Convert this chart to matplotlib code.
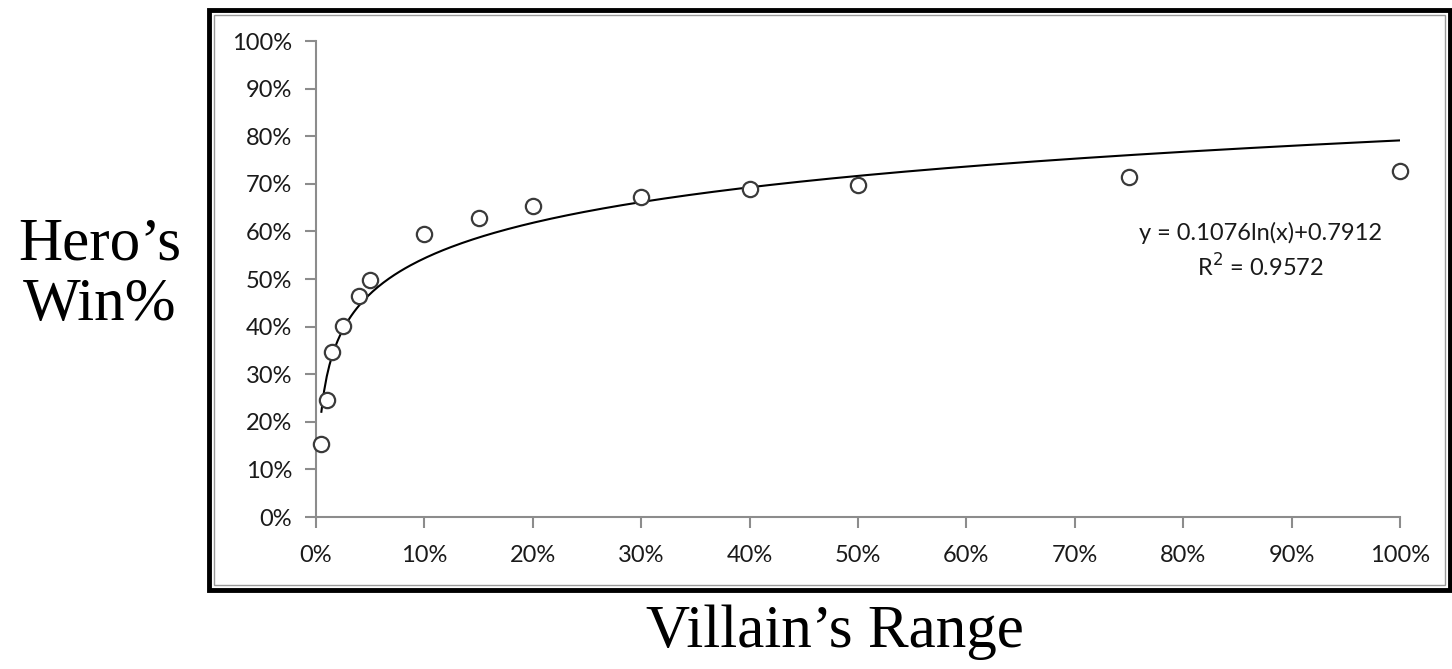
import numpy as np
import matplotlib
matplotlib.use("Agg")
import matplotlib.pyplot as plt
from matplotlib.patches import Rectangle
from matplotlib.ticker import PercentFormatter, MultipleLocator

# villain's range (fraction of hands) vs hero's win rate
villain_range = [0.005, 0.01, 0.015, 0.025, 0.04, 0.05, 0.10, 0.15, 0.20,
                 0.30, 0.40, 0.50, 0.75, 1.00]
hero_win = [0.153, 0.246, 0.347, 0.401, 0.464, 0.498, 0.595, 0.628, 0.653,
            0.672, 0.689, 0.697, 0.714, 0.727]

# log trendline coefficients as shown on the chart
fit_a = 0.1076
fit_b = 0.7912
fit_r2 = 0.9572

fig = plt.figure(figsize=(14.52, 6.69), dpi=100)
ax = fig.add_axes([0.2176, 0.2272, 0.7466, 0.7115])

# trendline
xs = np.linspace(min(villain_range), max(villain_range), 400)
ax.plot(xs, fit_a * np.log(xs) + fit_b, color="black", lw=1.5, zorder=2)

# data points
ax.plot(villain_range, hero_win, "o", ms=11, mfc="white", mec="#3a3a3a",
        mew=1.6, zorder=3, clip_on=False)

ax.set_xlim(0, 1)
ax.set_ylim(0, 1)
ax.xaxis.set_major_locator(MultipleLocator(0.1))
ax.yaxis.set_major_locator(MultipleLocator(0.1))
ax.xaxis.set_major_formatter(PercentFormatter(1.0, decimals=0))
ax.yaxis.set_major_formatter(PercentFormatter(1.0, decimals=0))

for s in ["top", "right"]:
    ax.spines[s].set_visible(False)
for s in ["left", "bottom"]:
    ax.spines[s].set_color("#8c8c8c")
    ax.spines[s].set_linewidth(1.5)
ax.tick_params(direction="out", length=8, width=1.5, color="#8c8c8c",
               labelsize=17, labelcolor="#1a1a1a", pad=9)
ax.tick_params(axis="x", pad=12)
for lab in ax.get_xticklabels() + ax.get_yticklabels():
    lab.set_family("Lato")

ax.text(0.871, 0.597, f"y = {fit_a}ln(x)+{fit_b}", ha="center",
        va="center", fontsize=17, color="#1a1a1a", family="Lato")
ax.text(0.871, 0.525, f"R$^2$ = {fit_r2}", ha="center", va="center",
        fontsize=17, color="#1a1a1a", family="Lato")

# axis titles, outside the chart box
fig.text(100 / 1452, 1 - 275 / 669, "Hero\u2019s\nWin%", ha="center",
         va="center", fontsize=44, family="Liberation Serif",
         linespacing=1.1)
fig.text(835 / 1452, 1 - 632 / 669, "Villain\u2019s Range", ha="center",
         va="center", fontsize=44, family="Liberation Serif")

# chart box frame
W, H = 1452, 669
fig.patches.append(Rectangle((209 / W, 1 - 590 / H), (1450 - 209) / W,
                             (590 - 10) / H, transform=fig.transFigure,
                             fill=False, ec="black", lw=3.5))
fig.patches.append(Rectangle((214 / W, 1 - 585 / H), (1445 - 214) / W,
                             (585 - 15) / H, transform=fig.transFigure,
                             fill=False, ec="#9a9a9a", lw=1))

fig.savefig("out.png", dpi=100)
